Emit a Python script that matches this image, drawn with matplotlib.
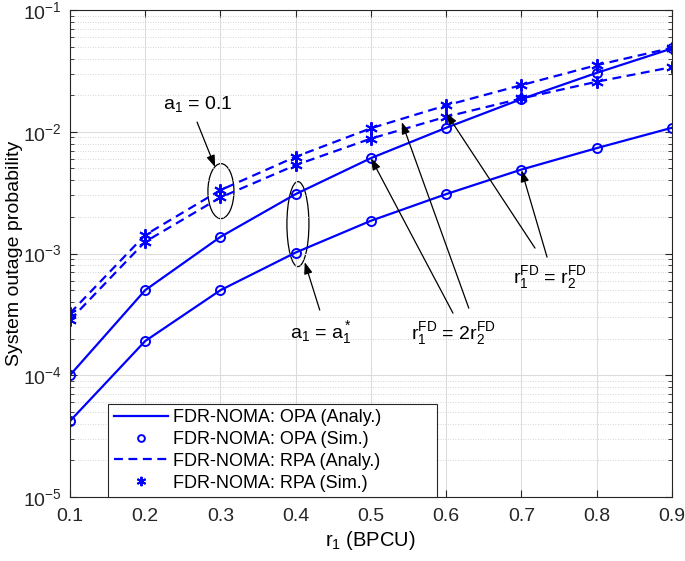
import numpy as np
import matplotlib
matplotlib.use("Agg")
import matplotlib.pyplot as plt
from matplotlib.patches import Ellipse
from matplotlib.ticker import LogLocator, NullFormatter

plt.rcParams["font.family"] = ["Liberation Sans", "DejaVu Sans"]
plt.rcParams["mathtext.fontset"] = "custom"
plt.rcParams["mathtext.rm"] = "Liberation Sans"
plt.rcParams["mathtext.it"] = "Liberation Sans"
plt.rcParams["mathtext.default"] = "regular"

r1 = [0.1, 0.2, 0.3, 0.4, 0.5, 0.6, 0.7, 0.8, 0.9]
# optimal power allocation, upper / lower curve
opa_a = [1.0e-4, 5.0e-4, 1.37e-3, 3.08e-3, 6.08e-3, 1.08e-2, 1.86e-2, 3.05e-2, 4.84e-2]
opa_b = [4.2e-5, 1.91e-4, 5.0e-4, 1.02e-3, 1.86e-3, 3.08e-3, 4.9e-3, 7.35e-3, 1.08e-2]
# random power allocation a1 = 0.1
rpa_a = [3.23e-4, 1.42e-3, 3.32e-3, 6.24e-3, 1.07e-2, 1.65e-2, 2.42e-2, 3.53e-2, 4.9e-2]
rpa_b = [2.84e-4, 1.25e-3, 2.89e-3, 5.33e-3, 8.8e-3, 1.33e-2, 1.88e-2, 2.58e-2, 3.4e-2]

labels = ["FDR-NOMA: OPA (Analy.)", "FDR-NOMA: OPA (Sim.)",
          "FDR-NOMA: RPA (Analy.)", "FDR-NOMA: RPA (Sim.)"]

blue = (0, 0, 1)
star = (6, 2, 0)

fig = plt.figure(figsize=(6.85, 5.61), dpi=100)
ax = fig.add_axes([0.102, 0.114, 0.879, 0.868])

l1, = ax.plot(r1, opa_a, "-", color=blue, lw=1.6)
ax.plot(r1, opa_b, "-", color=blue, lw=1.6)
m1, = ax.plot(r1, opa_a, "o", color=blue, mfc="none", ms=6.5, mew=1.4)
ax.plot(r1, opa_b, "o", color=blue, mfc="none", ms=6.5, mew=1.4)
l2, = ax.plot(r1, rpa_a, "--", color=blue, lw=1.6, dashes=(4, 2.5))
ax.plot(r1, rpa_b, "--", color=blue, lw=1.6, dashes=(4, 2.5))
m2, = ax.plot(r1, rpa_a, ls="none", marker=star, color=blue, ms=9, mew=1.4)
ax.plot(r1, rpa_b, ls="none", marker=star, color=blue, ms=9, mew=1.4)

ax.set_yscale("log")
ax.set_xlim(0.1, 0.9)
ax.set_ylim(1e-5, 1e-1)
ax.set_xticks(r1)
ax.set_xticklabels([str(v) for v in r1])
ax.yaxis.set_major_locator(LogLocator(base=10, numticks=10))
ax.yaxis.set_minor_locator(LogLocator(base=10, subs=np.arange(2, 10), numticks=10))
ax.yaxis.set_minor_formatter(NullFormatter())
ax.tick_params(which="both", direction="in", top=True, right=True,
               labelsize=14, colors="#262626")
ax.tick_params(which="major", length=5)
ax.tick_params(which="minor", length=3)
ax.tick_params(axis="x", pad=8)
ax.tick_params(axis="y", pad=6)
ax.grid(True, which="major", color="#dcdcdc", lw=0.8)
ax.grid(True, which="minor", axis="y", color="#c8c8c8", lw=0.6, ls=(0, (1, 2)))
for s in ax.spines.values():
    s.set_color("#262626")
    s.set_linewidth(0.8)

ax.set_xlabel("$r_1$ (BPCU)", fontsize=14.5, labelpad=3)
ax.set_ylabel("System outage probability", fontsize=14, labelpad=0)

leg = ax.legend([l1, m1, l2, m2], labels, loc="lower left", mode="expand",
                bbox_to_anchor=(0.064, 0.0, 0.545, 0.19), borderaxespad=0,
                fontsize=13, fancybox=False, edgecolor="#262626", framealpha=1,
                handlelength=3.0, handletextpad=0.3, labelspacing=0.27,
                borderpad=0.3, markerscale=0.75)
leg.get_frame().set_linewidth(0.8)


def yfrac(logy):
    return (logy + 5) / 4


def xfrac(x):
    return (x - 0.1) / 0.8


# ellipses around the two groups of points
ax.add_patch(Ellipse((xfrac(0.3007), yfrac(-2.487)), 26 / 602, 55 / 487,
                     transform=ax.transAxes, fill=False, ec="black", lw=0.9))
ax.add_patch(Ellipse((xfrac(0.403), yfrac(-2.758)), 22 / 602, 85 / 487,
                     transform=ax.transAxes, fill=False, ec="black", lw=0.9))

ap = dict(arrowstyle="-|>,head_length=0.7,head_width=0.25", color="black",
          lw=0.9, shrinkA=0, shrinkB=0)


def arrow(x0, ly0, x1, ly1):
    ax.annotate("", xy=(x1, 10 ** ly1), xytext=(x0, 10 ** ly0),
                arrowprops=ap)


ax.text(0.270, 10 ** -1.772, "$a_1$ = 0.1", fontsize=14, ha="center", va="center")
arrow(0.269, -1.920, 0.293, -2.290)

ax.text(0.4336, 10 ** -3.645, "$a_1$ = $a_1^*$", fontsize=14, ha="center", va="center")
arrow(0.432, -3.464, 0.412, -3.070)

ax.text(0.609, 10 ** -3.653, "$r_1^{FD}$ = 2$r_2^{FD}$", fontsize=14,
        ha="center", va="center")
arrow(0.609, -3.489, 0.5, -2.216)
arrow(0.630, -3.448, 0.541, -1.920)

ax.text(0.738, 10 ** -3.193, "$r_1^{FD}$ = $r_2^{FD}$", fontsize=14,
        ha="center", va="center")
arrow(0.718, -2.955, 0.600, -1.846)
arrow(0.734, -3.029, 0.700, -2.314)

fig.savefig("out.png", dpi=100)
